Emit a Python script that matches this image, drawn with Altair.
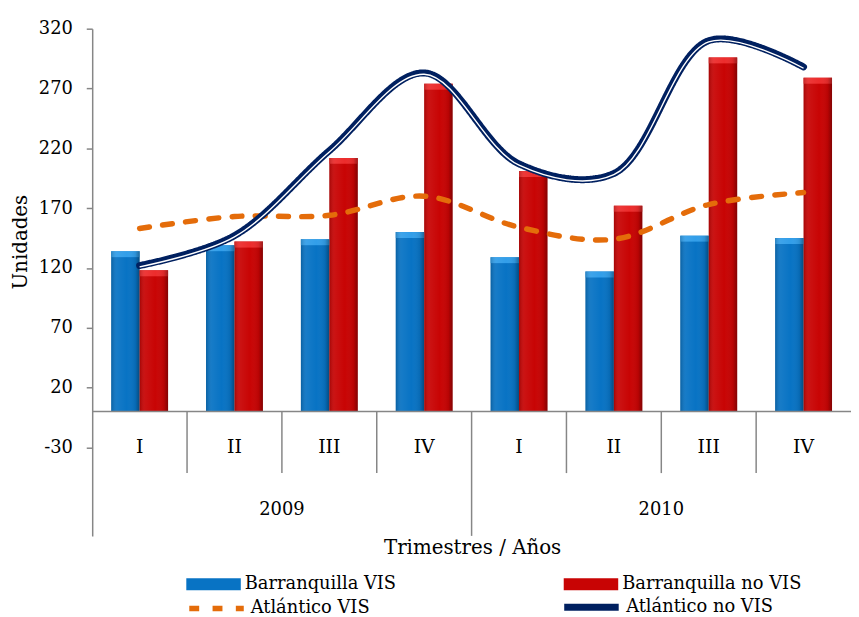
import altair as alt
import pandas as pd

# ---- data ----
years = ["2009", "2009", "2009", "2009", "2010", "2010", "2010", "2010"]
quarters = ["I", "II", "III", "IV", "I", "II", "III", "IV"]
barranquilla_vis = [134, 139, 144, 150, 129, 117, 147, 145]
barranquilla_no_vis = [118, 142, 212, 274, 201, 172, 296, 279]
atlantico_vis = [153, 163, 164, 180, 154, 144, 173, 183]
atlantico_no_vis = [122, 147, 218, 283, 207, 199, 310, 288]
y_ticks = [-30, 20, 70, 120, 170, 220, 270, 320]
bar_series = ["Barranquilla VIS", "Barranquilla no VIS"]
line_series = ["Atlántico VIS", "Atlántico no VIS"]
x_title = "Trimestres / Años"
y_title = "Unidades"

FONT = "DejaVu Serif"
GRAY = "#868686"

periods = [f"{y} {q}" for y, q in zip(years, quarters)]

bars = pd.DataFrame({
    "periodo": periods * 2,
    "serie": [bar_series[0]] * 8 + [bar_series[1]] * 8,
    "valor": barranquilla_vis + barranquilla_no_vis,
})
lines = pd.DataFrame({
    "periodo": periods * 2,
    "linea": [line_series[0]] * 8 + [line_series[1]] * 8,
    "valor": atlantico_vis + atlantico_no_vis,
})
cats = pd.DataFrame({"periodo": periods, "trimestre": quarters, "anio": years})
cats["fondo"] = [-104 if (q == "I") else -51.5 for q in quarters]
cats["cero"] = 0
dividers = cats.iloc[1:]
year_labels = cats[cats["trimestre"] == "III"]

x_scale = alt.Scale(domain=periods, paddingInner=0, paddingOuter=0)
y_scale = alt.Scale(domain=[-104, 320], nice=False, zero=False)

X = alt.X("periodo:N", scale=x_scale, axis=None, sort=periods)

y_axis = alt.Axis(
    values=y_ticks, grid=False, domainColor=GRAY, domainWidth=1.5,
    tickColor=GRAY, tickSize=6, tickWidth=1.5,
    labelFont=FONT, labelFontSize=18, labelColor="black", labelPadding=14,
    labelExpr="datum.value + ''",
    title=y_title, titleFont=FONT, titleFontSize=20, titleFontWeight="normal",
    titleColor="black", titleX=-72, titleY=215, titleAngle=270,
    titleBaseline="middle", titleAlign="center",
)

offset_scale = alt.Scale(domain=bar_series, paddingInner=0, paddingOuter=0.667)
XO = alt.XOffset("serie:N", scale=offset_scale)

bar_layer = alt.Chart(bars).mark_bar().encode(
    x=X,
    xOffset=XO,
    y=alt.Y("valor:Q", scale=y_scale, axis=y_axis),
    y2=alt.datum(0),
    color=alt.Color(
        "serie:N",
        scale=alt.Scale(domain=bar_series, range=["#0873c4", "#c80404"]),
        legend=alt.Legend(
            title=None, orient="none", legendX=95, legendY=533,
            direction="horizontal",
            symbolType="M-1,-0.22H1V0.22H-1Z", symbolSize=3025,
            symbolStrokeWidth=0, symbolOpacity=1,
            labelFont=FONT, labelFontSize=18, labelColor="black",
            labelOffset=4, columnPadding=169, labelLimit=400,
        ),
    ),
)

# lighter cap at the top of each bar
cap = alt.Chart(bars).transform_calculate(
    cap_bottom="datum.valor - 5"
).mark_bar(opacity=0.85).encode(
    x=X,
    xOffset=XO,
    y=alt.Y("valor:Q", scale=y_scale),
    y2=alt.Y2("cap_bottom:Q"),
    fill=alt.condition(
        alt.datum.serie == bar_series[0], alt.value("#3aa6f0"), alt.value("#f23434")
    ),
)

gloss = alt.Chart(bars).mark_bar(
    fill=alt.Gradient(
        gradient="linear", x1=0, x2=1, y1=0, y2=0,
        stops=[
            alt.GradientStop(color="rgba(0,0,0,0.18)", offset=0),
            alt.GradientStop(color="rgba(255,255,255,0.06)", offset=0.2),
            alt.GradientStop(color="rgba(255,255,255,0)", offset=0.55),
            alt.GradientStop(color="rgba(0,0,0,0.08)", offset=0.85),
            alt.GradientStop(color="rgba(0,0,0,0.35)", offset=1),
        ],
    )
).encode(
    x=X,
    xOffset=XO,
    y=alt.Y("valor:Q", scale=y_scale),
    y2=alt.datum(0),
)

baseline = alt.Chart(cats.iloc[:1]).mark_rule(color=GRAY, strokeWidth=1.5).encode(
    y=alt.Y("cero:Q", scale=y_scale)
)

divider_layer = alt.Chart(dividers).mark_rule(color=GRAY, strokeWidth=1.5).encode(
    x=alt.X("periodo:N", scale=x_scale, axis=None, sort=periods, bandPosition=0),
    y=alt.Y("fondo:Q", scale=y_scale),
    y2=alt.Y2("cero:Q"),
)

line_layer = alt.Chart(lines).mark_line(
    interpolate="catmull-rom", strokeCap="round"
).encode(
    x=X,
    y=alt.Y("valor:Q", scale=y_scale),
    stroke=alt.Stroke(
        "linea:N",
        scale=alt.Scale(domain=line_series, range=["#e46c0a", "#002060"]),
        legend=alt.Legend(
            title=None, orient="none", legendX=95, legendY=553,
            direction="horizontal", symbolType="stroke", symbolSize=3025,
            symbolStrokeWidth=3,
            labelFont=FONT, labelFontSize=18, labelColor="black",
            labelOffset=4, columnPadding=181, labelLimit=400,
        ),
    ),
    strokeDash=alt.StrokeDash(
        "linea:N",
        scale=alt.Scale(domain=line_series, range=[[10, 13.5], [1, 0]]),
    ),
    strokeWidth=alt.StrokeWidth(
        "linea:N",
        scale=alt.Scale(domain=line_series, range=[5.5, 7]),
        legend=None,
    ),
)

white_line = alt.Chart(lines[lines["linea"] == line_series[1]]).mark_line(
    interpolate="catmull-rom", color="white", strokeWidth=1.4, yOffset=1.3
).encode(
    x=X,
    y=alt.Y("valor:Q", scale=y_scale),
)

quarter_text = alt.Chart(cats).mark_text(
    font=FONT, fontSize=19, color="black", baseline="middle"
).encode(x=X, y=alt.datum(-30), text="trimestre:N")

year_text = alt.Chart(year_labels).mark_text(
    font=FONT, fontSize=18, color="black", baseline="middle"
).encode(
    x=alt.X("periodo:N", scale=x_scale, axis=None, sort=periods, bandPosition=0),
    y=alt.datum(-82),
    text="anio:N",
)

x_title_text = alt.Chart(pd.DataFrame({"t": [x_title]})).mark_text(
    font=FONT, fontSize=20, color="black", baseline="middle"
).encode(x=alt.value(384), y=alt.value(524), text="t:N")

chart = alt.layer(
    bar_layer, cap, gloss, baseline, divider_layer, line_layer, white_line,
    quarter_text, year_text, x_title_text,
).properties(
    width=766, height=512,
    autosize=alt.AutoSizeParams(type="none"),
    padding={"left": 85, "top": 18, "right": 0, "bottom": 79},
    background="white",
).configure_view(stroke=None)

chart.save("out.html", embed_options={"renderer": "svg", "actions": False})
